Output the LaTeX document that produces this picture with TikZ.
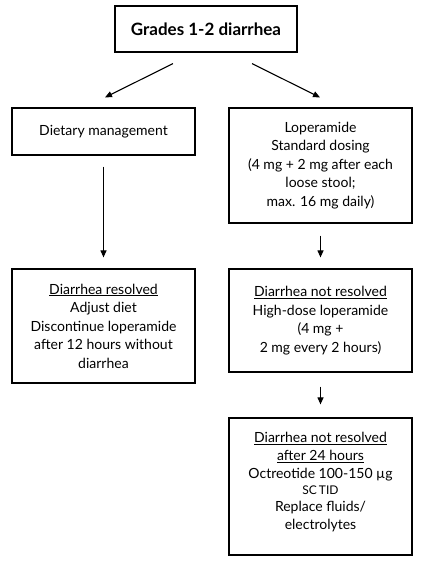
\documentclass[tikz,border=0pt]{standalone}
\usepackage{fontspec}
\setmainfont{Lato}
\usetikzlibrary{arrows.meta}
\tikzset{
  box/.style={draw, line width=1.2pt, align=center, inner sep=0pt,
    minimum width=183pt, font=\fontsize{14}{18.5}\selectfont},
  arr/.style={line width=1.1pt, -{Triangle[length=7pt,width=6pt]}}
}
\begin{document}
\begin{tikzpicture}[x=1pt,y=-1pt]
\useasboundingbox (0,0) rectangle (421,562);
\node[box, minimum width=182pt, minimum height=46pt, font=\fontsize{17}{20}\selectfont\bfseries] (top) at (206,29) {Grades 1-2 diarrhea};
\node[box, minimum height=47pt] (L1) at (103.5,131.5) {Dietary management};
\node[box, minimum height=115pt] (R1) at (320.5,165.5) {Loperamide\\Standard dosing\\(4 mg + 2 mg after each\\loose stool;\\max. 16 mg daily)};
\node[box, minimum height=114pt] (L2) at (103.5,326) {\underline{Diarrhea resolved}\\Adjust diet\\Discontinue loperamide\\after 12 hours without\\diarrhea};
\node[box, minimum height=103pt] (R2) at (320.5,320.5) {\underline{Diarrhea not resolved}\\High-dose loperamide\\(4 mg +\\2 mg every 2 hours)};
\node[box, minimum height=137pt] (R3) at (320.5,486.5) {};
\node[align=center, inner sep=0pt, font=\fontsize{14}{18}\selectfont] (R3t) at (320.5,482) {\underline{Diarrhea not resolved}\\\underline{after 24 hours}\\Octreotide 100-150 µg\\[-1.5pt]{\fontsize{12}{14}\selectfont SC\kern2pt TID}\\[-1.5pt]Replace fluids/\\electrolytes};
\draw[arr] ([xshift=-33pt,yshift=-11pt]top.south) -- ([xshift=1.5pt,yshift=10pt]L1.north);
\draw[arr] ([xshift=46pt,yshift=-11pt]top.south) -- ([xshift=-0.5pt,yshift=10pt]R1.north);
\draw[arr] ([yshift=-11pt]L1.south) -- ([yshift=11pt]L2.north);
\draw[arr] ([yshift=-12pt]R1.south) -- ([yshift=11pt]R2.north);
\draw[arr] ([yshift=-14pt]R2.south) -- ([yshift=13pt]R3.north);
\end{tikzpicture}
\end{document}
